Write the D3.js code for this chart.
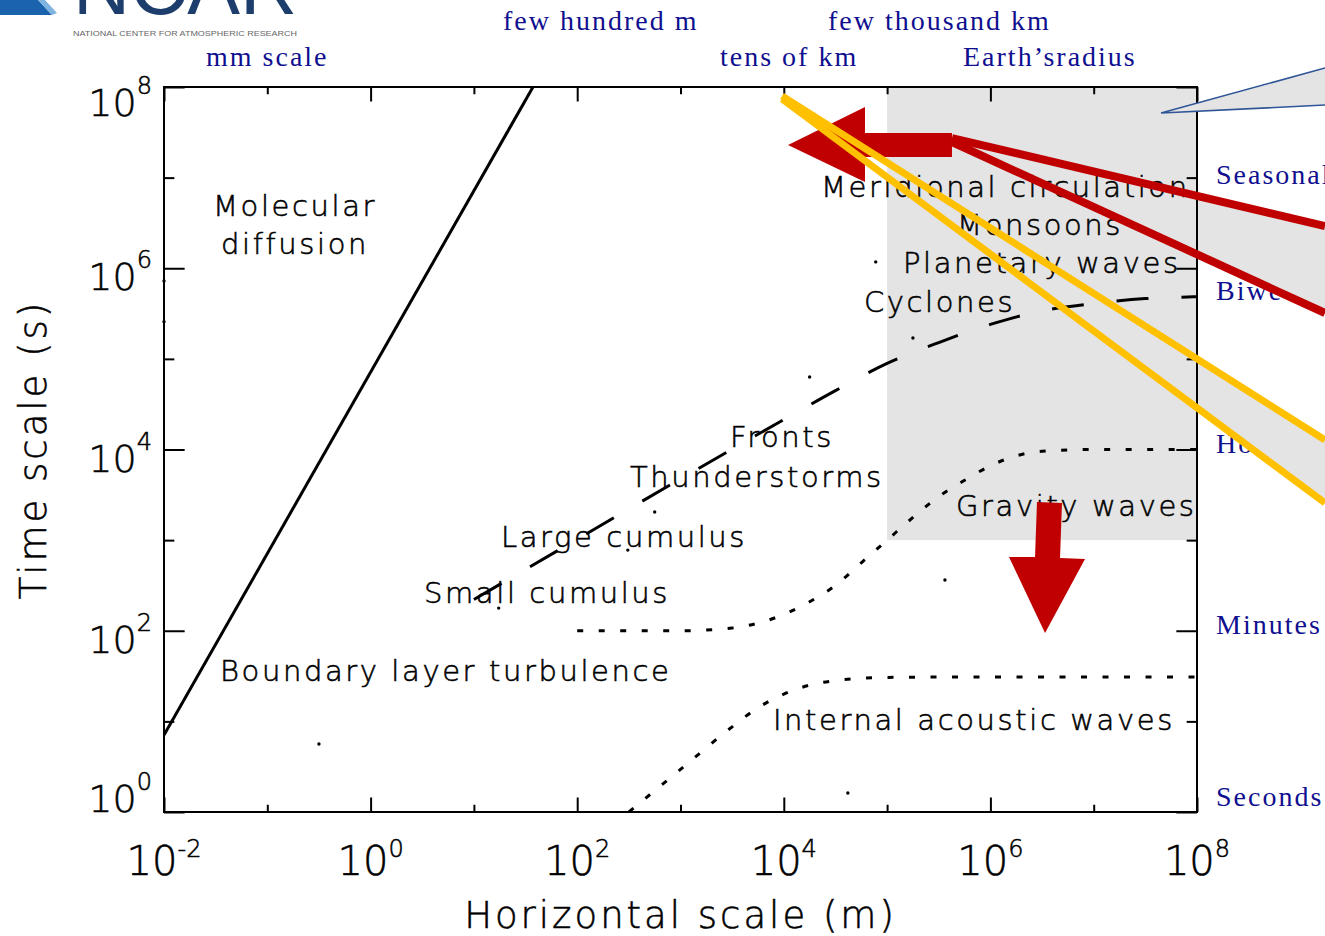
<!DOCTYPE html>
<html>
<head>
<meta charset="utf-8">
<script src="https://d3js.org/d3.v7.min.js"></script>
<style>
  body { margin: 0; background: #fff; }
  svg { display: block; }
</style>
</head>
<body>
<svg id="chart" width="1325" height="936"></svg>
<script>
// Space and time scales of atmospheric motions.
// All values are log10 of horizontal scale (m) and time scale (s).

const xExps = d3.range(-2, 9);
const yExps = d3.range(0, 9);

// molecular diffusion, solid line
const diffusionLogL = [-2, 1.572];
const diffusionLogT = [0.85, 8];

// eddies / weather systems, long dashes
const eddyLogL = [1, 2, 3, 4, 4.5, 5, 5.5, 6, 6.5, 7, 7.5, 8];
const eddyLogT = [2.345, 3.01, 3.675, 4.33, 4.65, 4.95, 5.18, 5.38, 5.53, 5.61, 5.665, 5.685];

// gravity waves, dotted
const gravityLogL = [2, 3, 3.5, 3.8, 4, 4.25, 4.5, 4.75, 5, 5.25, 5.5, 5.75, 6, 6.25, 6.5, 7, 8];
const gravityLogT = [2, 2, 2.03, 2.1, 2.18, 2.32, 2.5, 2.75, 3.0, 3.25, 3.48, 3.66, 3.82, 3.93, 3.98, 4.0, 4.0];

// internal acoustic waves, dotted
const acousticLogL = [2.5, 3.0, 3.5, 3.75, 4.0, 4.25, 4.5, 4.75, 5, 6, 7, 8];
const acousticLogT = [0, 0.47, 0.94, 1.15, 1.3, 1.4, 1.45, 1.475, 1.485, 1.49, 1.49, 1.49];

// small markers of each phenomenon
const dotLogL = [4.89, 5.25, 4.25, 2.75, 2.49, 1.24, -0.50, 5.56, 4.62, -2, -2];
const dotLogT = [6.07, 5.23, 4.80, 3.31, 2.89, 2.25, 0.75, 2.56, 0.21, 5.86, 5.41];

// shaded box of large scale motions
const boxLogL = [5, 8];
const boxLogT = [3, 8];

const phenomena = ["Molecular", "diffusion", "Meridional circulation", "Monsoons", "Planetary waves",
  "Cyclones", "Fronts", "Thunderstorms", "Large cumulus", "Small cumulus",
  "Boundary layer turbulence", "Gravity waves", "Internal acoustic waves"];
const phenomenaLogL = [-1.526, -1.448, 4.360, 5.677, 5.154, 4.776, 3.479, 2.511, 1.262, 0.517, -1.458, 5.667, 3.895];
const phenomenaLogT = [6.577, 6.157, 6.786, 6.367, 5.948, 5.517, 4.028, 3.586, 2.924, 2.306, 1.446, 3.266, 0.905];

const lengthNames = ["mm scale", "few hundred m", "tens of km", "few thousand km", "Earth\u2019sradius"];
const lengthNamesLogL = [-1.593, 1.282, 3.382, 4.428, 5.735];
const lengthNamesLogT = [8.232, 8.629, 8.232, 8.629, 8.232];

const timeNames = ["Seasonal", "Biweekly", "Hours", "Minutes", "Seconds"];
const timeNamesLogL = [8.184, 8.184, 8.184, 8.184, 8.184];
const timeNamesLogT = [6.93, 5.65, 3.961, 1.964, 0.066];

// slide annotations (arrows and zoom wedges)
const leftArrowLogL = [5.628, 4.786, 4.786, 4.041, 4.786, 4.786, 5.628];
const leftArrowLogT = [7.492, 7.492, 7.779, 7.360, 6.952, 7.228, 7.228];
const downArrowLogL = [6.451, 6.693, 6.674, 6.916, 6.529, 6.180, 6.432];
const downArrowLogT = [3.421, 3.410, 2.803, 2.792, 1.975, 2.814, 2.814];
const redLogL = [5.628, 9.239];
const redUpperLogT = [7.437, 6.466];
const redLowerLogT = [7.393, 5.506];
const yellowLogL = [3.983, 9.239];
const yellowUpperLogT = [7.901, 4.105];
const yellowLowerLogT = [7.868, 3.410];
const calloutLogL = [9.239, 7.652, 9.239];
const calloutLogT = [8.210, 7.713, 7.801];

const svg = d3.select("#chart");
const margin = { top: 87, right: 128, bottom: 124, left: 164 };
const width = +svg.attr("width") - margin.left - margin.right;
const height = +svg.attr("height") - margin.top - margin.bottom;

const sans = "'DejaVu Sans', 'Noto Sans', sans-serif";
const serif = "'Liberation Serif', 'DejaVu Serif', serif";
const navy = "#0f0f8f";
const red = "#c00000";
const yellow = "#ffc000";
const shade = "#e4e4e4";

const x = d3.scaleLog().domain([1e-2, 1e8]).range([0, width]);
const y = d3.scaleLog().domain([1, 1e8]).range([height, 0]);
const px = v => x(10 ** v);
const py = v => y(10 ** v);
const zip = (a, b) => a.map((v, i) => [v, b[i]]);

// thin vector-like lettering, slightly thickened
function hershey(sel, size) {
  return sel.attr("font-family", sans).attr("font-size", size).attr("font-weight", 200)
    .attr("fill", "#000").attr("stroke", "#000").attr("stroke-width", 0.55);
}

// logo remnant top left
const logo = svg.append("g");
logo.append("path").attr("d", "M0,0 L38,0 L52,15 L0,15 Z").attr("fill", "#1b64ad");
logo.append("path").attr("d", "M38,0 L45,0 L57,13 L52,15 Z").attr("fill", "#7fb3e0");
logo.append("text").attr("x", 73).attr("y", 14).attr("textLength", 224).attr("lengthAdjust", "spacingAndGlyphs")
  .attr("font-family", "'Liberation Sans', sans-serif").attr("font-size", 80).attr("fill", "#1d3e6c").text("NCAR");
logo.append("text").attr("x", 73).attr("y", 36).attr("textLength", 224).attr("lengthAdjust", "spacingAndGlyphs")
  .attr("font-family", "'Liberation Sans', sans-serif").attr("font-size", 7).attr("fill", "#666")
  .text("NATIONAL CENTER FOR ATMOSPHERIC RESEARCH");

const g = svg.append("g").attr("transform", `translate(${margin.left},${margin.top})`);

g.append("clipPath").attr("id", "plotClip")
  .append("rect").attr("width", width).attr("height", height);

// shaded box
g.append("rect")
  .attr("x", px(boxLogL[0])).attr("y", py(boxLogT[1]))
  .attr("width", px(boxLogL[1]) - px(boxLogL[0]))
  .attr("height", py(boxLogT[0]) - py(boxLogT[1]))
  .attr("fill", shade);

const straight = d3.line().x(d => px(d[0])).y(d => py(d[1]));
const smooth = d3.line().x(d => px(d[0])).y(d => py(d[1])).curve(d3.curveMonotoneX);

const curves = g.append("g").attr("clip-path", "url(#plotClip)")
  .attr("fill", "none").attr("stroke", "#000");

curves.append("path").attr("d", straight(zip(diffusionLogL, diffusionLogT)))
  .attr("stroke-width", 3);
curves.append("path").attr("d", smooth(zip(eddyLogL, eddyLogT)))
  .attr("stroke-width", 3).attr("stroke-dasharray", "32,33");
curves.append("path").attr("d", smooth(zip(gravityLogL, gravityLogT)))
  .attr("stroke-width", 3).attr("stroke-dasharray", "6,15.5");
curves.append("path").attr("d", smooth(zip(acousticLogL, acousticLogT)))
  .attr("stroke-width", 3).attr("stroke-dasharray", "6,15.5");

// markers
g.append("g").selectAll("circle").data(zip(dotLogL, dotLogT)).join("circle")
  .attr("cx", d => px(d[0])).attr("cy", d => py(d[1])).attr("r", 1.7).attr("fill", "#000");

// phenomenon labels
hershey(g.append("g").selectAll("text").data(phenomena).join("text"), 29)
  .attr("x", (d, i) => px(phenomenaLogL[i]))
  .attr("y", (d, i) => py(phenomenaLogT[i]))
  .attr("letter-spacing", 2.6)
  .text(d => d);

// names of length scales (top) and time scales (right)
g.append("g").selectAll("text").data(lengthNames).join("text")
  .attr("x", (d, i) => px(lengthNamesLogL[i]))
  .attr("y", (d, i) => py(lengthNamesLogT[i]))
  .attr("font-family", serif).attr("font-size", 28).attr("letter-spacing", 2)
  .attr("fill", navy).text(d => d);

g.append("g").selectAll("text").data(timeNames).join("text")
  .attr("x", (d, i) => px(timeNamesLogL[i]))
  .attr("y", (d, i) => py(timeNamesLogT[i]))
  .attr("font-family", serif).attr("font-size", 28).attr("letter-spacing", 2)
  .attr("fill", navy).text(d => d);

// grey zoom wedges to the right of the frame
function lineAt(ls, ts, l) {
  return ts[0] + (ts[1] - ts[0]) * (l - ls[0]) / (ls[1] - ls[0]);
}
function wedge(ls, upper, lower) {
  const l0 = 8, l1 = ls[1];
  return [[l0, lineAt(ls, upper, l0)], [l1, upper[1]], [l1, lower[1]], [l0, lineAt(ls, lower, l0)]];
}
const poly = d3.line().x(d => px(d[0])).y(d => py(d[1]));
g.append("path").attr("d", poly(wedge(redLogL, redUpperLogT, redLowerLogT)) + "Z").attr("fill", shade);
g.append("path").attr("d", poly(wedge(yellowLogL, yellowUpperLogT, yellowLowerLogT)) + "Z").attr("fill", shade);

// frame and inward ticks on all four sides
const majorX = xExps.filter(e => e % 2 === 0).map(e => 10 ** e);
const minorX = xExps.filter(e => e % 2 !== 0).map(e => 10 ** e);
const majorY = yExps.filter(e => e % 2 === 0).map(e => 10 ** e);
const minorY = yExps.filter(e => e % 2 !== 0).map(e => 10 ** e);
const xTick = height * 0.02;
const yTick = width * 0.02;

function ticks(axisFn, scale, values, len, tx, ty) {
  const a = g.append("g").attr("transform", `translate(${tx},${ty})`)
    .call(axisFn(scale).tickValues(values).tickSize(-len).tickSizeOuter(0).tickFormat(""));
  a.select(".domain").remove();
  a.selectAll("line").attr("stroke", "#000").attr("stroke-width", 2);
}
ticks(d3.axisBottom, x, majorX, xTick, 0, height);
ticks(d3.axisBottom, x, minorX, xTick / 2, 0, height);
ticks(d3.axisTop, x, majorX, xTick, 0, 0);
ticks(d3.axisTop, x, minorX, xTick / 2, 0, 0);
ticks(d3.axisLeft, y, majorY, yTick, 0, 0);
ticks(d3.axisLeft, y, minorY, yTick / 2, 0, 0);
ticks(d3.axisRight, y, majorY, yTick, width, 0);
ticks(d3.axisRight, y, minorY, yTick / 2, width, 0);

g.append("rect").attr("width", width).attr("height", height)
  .attr("fill", "none").attr("stroke", "#000").attr("stroke-width", 2);

// tick labels with exponents
hershey(g.append("g").selectAll("text").data(xExps.filter(e => e % 2 === 0)).join("text"), 40)
  .attr("x", e => px(e)).attr("y", height + 63).attr("text-anchor", "middle")
  .each(function (e) {
    const t = d3.select(this);
    t.append("tspan").text("10");
    t.append("tspan").attr("dy", -18).attr("font-size", 24).text(e);
  });

hershey(g.append("g").selectAll("text").data(yExps.filter(e => e % 2 === 0)).join("text"), 38)
  .attr("x", -12)
  .attr("y", e => Math.max(29, Math.min(height, py(e) + 22)))
  .attr("text-anchor", "end")
  .each(function (e) {
    const t = d3.select(this);
    t.append("tspan").text("10");
    t.append("tspan").attr("dy", -22).attr("font-size", 24).text(e);
  });

// axis titles
hershey(g.append("text"), 37).attr("x", width / 2).attr("y", height + 116).attr("text-anchor", "middle")
  .attr("letter-spacing", 3).text("Horizontal scale (m)");
hershey(g.append("text"), 37).attr("transform", `translate(-118,${height / 2}) rotate(-90)`)
  .attr("text-anchor", "middle").attr("letter-spacing", 3).text("Time scale (s)");

// annotations on top
const over = g.append("g");
over.append("path").attr("d", straight(zip(redLogL, redUpperLogT)))
  .attr("stroke", red).attr("stroke-width", 8).attr("fill", "none");
over.append("path").attr("d", straight(zip(redLogL, redLowerLogT)))
  .attr("stroke", red).attr("stroke-width", 8).attr("fill", "none");
over.append("path").attr("d", poly(zip(leftArrowLogL, leftArrowLogT)) + "Z").attr("fill", red);
over.append("path").attr("d", straight(zip(yellowLogL, yellowUpperLogT)))
  .attr("stroke", yellow).attr("stroke-width", 7).attr("fill", "none");
over.append("path").attr("d", straight(zip(yellowLogL, yellowLowerLogT)))
  .attr("stroke", yellow).attr("stroke-width", 7).attr("fill", "none");
over.append("path").attr("d", poly(zip(downArrowLogL, downArrowLogT)) + "Z").attr("fill", red);
over.append("path").attr("d", poly(zip(calloutLogL, calloutLogT)))
  .attr("fill", shade).attr("stroke", "#2f5597").attr("stroke-width", 1.6);
</script>
</body>
</html>
